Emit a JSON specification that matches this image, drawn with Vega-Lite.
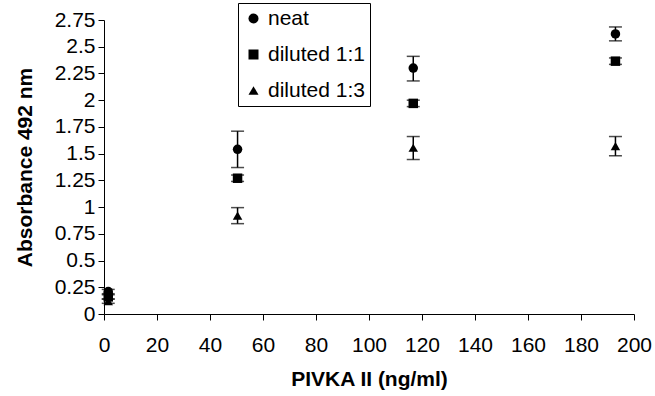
{
  "$schema": "https://vega.github.io/schema/vega-lite/v6.json",
  "width": 530,
  "height": 294,
  "autosize": {"type": "none"},
  "padding": {"left": 104, "top": 20, "right": 21, "bottom": 82},
  "background": "white",
  "config": {
    "view": {"stroke": null},
    "font": "Liberation Sans",
    "axis": {
      "grid": false,
      "domainColor": "black",
      "tickColor": "black",
      "labelColor": "black",
      "titleColor": "black",
      "labelFont": "Liberation Sans",
      "titleFont": "Liberation Sans",
      "labelFontSize": 21,
      "titleFontSize": 21,
      "titleFontWeight": "bold",
      "tickSize": 6,
      "domainWidth": 1,
      "tickWidth": 1
    },
    "legend": {
      "labelFont": "Liberation Sans",
      "labelFontSize": 21,
      "labelColor": "black"
    }
  },
  "data": {
    "values": [
      {"conc": 1.6, "abs": 0.21, "lo": 0.19, "hi": 0.23, "sample": "neat"},
      {"conc": 50.4, "abs": 1.54, "lo": 1.37, "hi": 1.71, "sample": "neat"},
      {"conc": 116.7, "abs": 2.3, "lo": 2.18, "hi": 2.41, "sample": "neat"},
      {"conc": 193, "abs": 2.62, "lo": 2.555, "hi": 2.685, "sample": "neat"},
      {"conc": 1.6, "abs": 0.16, "lo": 0.14, "hi": 0.18, "sample": "diluted 1:1"},
      {"conc": 50.4, "abs": 1.27, "lo": 1.24, "hi": 1.3, "sample": "diluted 1:1"},
      {"conc": 116.7, "abs": 1.97, "lo": 1.94, "hi": 2.0, "sample": "diluted 1:1"},
      {"conc": 193, "abs": 2.365, "lo": 2.335, "hi": 2.395, "sample": "diluted 1:1"},
      {"conc": 1.6, "abs": 0.12, "lo": 0.1, "hi": 0.14, "sample": "diluted 1:3"},
      {"conc": 50.4, "abs": 0.92, "lo": 0.845, "hi": 0.995, "sample": "diluted 1:3"},
      {"conc": 116.7, "abs": 1.555, "lo": 1.445, "hi": 1.66, "sample": "diluted 1:3"},
      {"conc": 193, "abs": 1.57, "lo": 1.48, "hi": 1.66, "sample": "diluted 1:3"}
    ]
  },
  "encoding": {
    "x": {
      "field": "conc",
      "type": "quantitative",
      "scale": {"domain": [0, 200], "nice": false, "zero": false},
      "axis": {
        "title": "PIVKA II (ng/ml)",
        "values": [0, 20, 40, 60, 80, 100, 120, 140, 160, 180, 200],
        "labelPadding": 14,
        "titlePadding": 13,
        "labelFlush": false,
        "labelOverlap": false
      }
    }
  },
  "layer": [
    {
      "mark": {"type": "rule", "color": "black", "strokeWidth": 1.5},
      "encoding": {
        "y": {
          "field": "lo",
          "type": "quantitative",
          "scale": {"domain": [0, 2.75], "nice": false},
          "axis": {
            "title": "Absorbance 492 nm",
            "values": [0, 0.25, 0.5, 0.75, 1, 1.25, 1.5, 1.75, 2, 2.25, 2.5, 2.75],
            "format": ".3~g",
            "labelPadding": 3,
            "titlePadding": 19,
            "labelFlush": false,
            "labelOverlap": false
          }
        },
        "y2": {"field": "hi"}
      }
    },
    {
      "mark": {"type": "tick", "orient": "horizontal", "color": "black", "size": 13, "thickness": 1.5},
      "encoding": {
        "y": {
          "field": "lo",
          "type": "quantitative",
          "scale": {"domain": [0, 2.75], "nice": false},
          "axis": {
            "title": "Absorbance 492 nm",
            "values": [0, 0.25, 0.5, 0.75, 1, 1.25, 1.5, 1.75, 2, 2.25, 2.5, 2.75],
            "format": ".3~g",
            "labelPadding": 3,
            "titlePadding": 19,
            "labelFlush": false,
            "labelOverlap": false
          }
        }
      }
    },
    {
      "mark": {"type": "tick", "orient": "horizontal", "color": "black", "size": 13, "thickness": 1.5},
      "encoding": {
        "y": {
          "field": "hi",
          "type": "quantitative",
          "scale": {"domain": [0, 2.75], "nice": false},
          "axis": {
            "title": "Absorbance 492 nm",
            "values": [0, 0.25, 0.5, 0.75, 1, 1.25, 1.5, 1.75, 2, 2.25, 2.5, 2.75],
            "format": ".3~g",
            "labelPadding": 3,
            "titlePadding": 19,
            "labelFlush": false,
            "labelOverlap": false
          }
        }
      }
    },
    {
      "mark": {"type": "point", "filled": true, "color": "black", "opacity": 1, "size": 90},
      "encoding": {
        "y": {
          "field": "abs",
          "type": "quantitative",
          "scale": {"domain": [0, 2.75], "nice": false},
          "axis": {
            "title": "Absorbance 492 nm",
            "values": [0, 0.25, 0.5, 0.75, 1, 1.25, 1.5, 1.75, 2, 2.25, 2.5, 2.75],
            "format": ".3~g",
            "labelPadding": 3,
            "titlePadding": 19,
            "labelFlush": false,
            "labelOverlap": false
          }
        },
        "shape": {
          "field": "sample",
          "type": "nominal",
          "scale": {
            "domain": ["neat", "diluted 1:1", "diluted 1:3"],
            "range": ["circle", "square", "triangle-up"]
          },
          "legend": {
            "title": null,
            "orient": "none",
            "legendX": 134,
            "legendY": -17,
            "strokeColor": "black",
            "fillColor": "white",
            "padding": 5,
            "rowPadding": 14,
            "symbolSize": 100,
            "symbolFillColor": "black",
            "symbolStrokeColor": "black",
            "symbolStrokeWidth": 0,
            "labelOffset": 4,
            "labelLimit": 200
          }
        }
      }
    }
  ]
}
